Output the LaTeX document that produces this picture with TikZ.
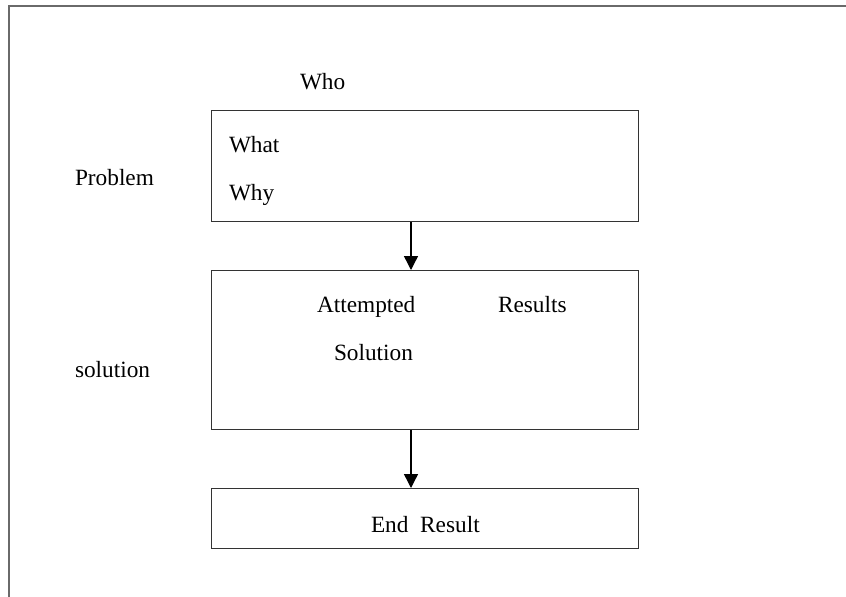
\documentclass[tikz,border=0pt]{standalone}
\usepackage{fontspec}
\setmainfont{Liberation Serif}
\usetikzlibrary{arrows.meta}
\definecolor{boxline}{HTML}{333333}
\definecolor{frameline}{HTML}{6A6A6A}
\begin{document}
\begin{tikzpicture}[x=1pt,y=-1pt,
  lbl/.style={anchor=base west,inner sep=0pt,outer sep=0pt,font=\fontsize{23.3}{28}\selectfont},
  boxnode/.style={draw=boxline,line width=1.4pt,rectangle,anchor=north west,inner sep=0pt,minimum width=427pt},
  arr/.style={draw=black,line width=1.4pt,-{Triangle[length=14pt,width=14pt]}}]
\useasboundingbox (0,0) rectangle (846,597);
\fill[white] (0,0) rectangle (846,597);
% frame
\coordinate (fbl) at (9.3,597);
\coordinate (ftl) at (9.3,6);
\coordinate (ftr) at (846,6);
\draw[frameline,line width=2pt] (fbl) -- (ftl) -- (ftr);
% boxes
\node[boxnode,minimum height=111pt] (b1) at (211,110) {};
\node[boxnode,minimum height=159pt] (b2) at (211,270) {};
\node[boxnode,minimum height=60pt] (b3) at (211,488) {};
% arrows
\coordinate (ax) at (411,0);
\draw[arr] (ax |- b1.south) -- (ax |- b2.north);
\draw[arr] (ax |- b2.south) -- (ax |- b3.north);
% labels
\node[lbl] (who) at (300,89) {Who};
\node[lbl] (what) at (229,152) {What};
\node[lbl] (why) at (229,200) {Why};
\node[lbl] (problem) at (75,185) {Problem};
\node[lbl] (attempted) at (317,312) {Attempted};
\node[lbl] (results) at (498,312) {Results};
\node[lbl] (solution) at (334,360) {Solution};
\node[lbl] (solside) at (75,377) {solution};
\node[lbl] (end) at (371,532) {End\ \ Result};
\end{tikzpicture}
\end{document}
